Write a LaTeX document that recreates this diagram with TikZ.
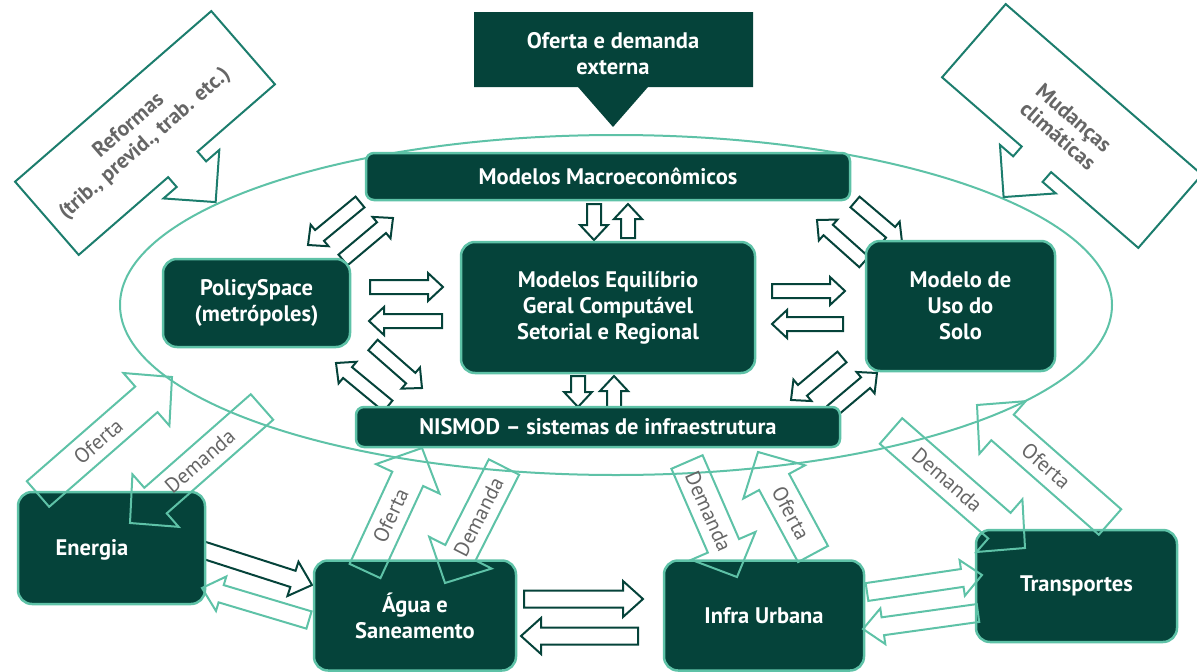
\documentclass[tikz,border=0pt]{standalone}
\usepackage{fontspec}
\setmainfont{PT Sans}
\usetikzlibrary{calc}

\definecolor{boxgreen}{HTML}{05433A}
\definecolor{lightteal}{HTML}{5EC2A7}
\definecolor{callteal}{HTML}{1C7D6D}
\definecolor{labelgray}{HTML}{666666}

% block arrow: [style]{from}{to}{half shaft}{half head}{head length}
\newcommand\barrow[6][]{%
  \coordinate (h) at ($(#3)!#6!(#2)$);
  \draw[#1] ($(#2)!#4!90:(#3)$) -- ($(h)!#4!90:(#3)$) -- ($(h)!#5!90:(#3)$) -- (#3)
    -- ($(h)!#5!-90:(#3)$) -- ($(h)!#4!-90:(#3)$) -- ($(#2)!#4!-90:(#3)$) -- cycle;}

% callout: {centre}{angle}{head offset}
\newcommand\callbox[3]{%
  \begin{scope}[shift={#1}, rotate=#2, xshift=#3]
    \draw[callout] (-130-#3,-48.5) -- (130-#3,-48.5) -- (130-#3,48.5) -- (19.5,48.5) -- (19.5,61.5)
        -- (37,61.5) -- (0,98.5) -- (-37,61.5) -- (-19.5,61.5) -- (-19.5,48.5)
        -- (-130-#3,48.5) -- cycle;
  \end{scope}}

\tikzset{
  boxtxt/.style={text=white, font=\fontsize{22.5}{26}\selectfont\bfseries, align=center},
  box/.style={boxtxt, draw=lightteal, line width=2.5pt, fill=boxgreen, rounded corners=14pt, inner sep=0pt},
  darr/.style={draw=boxgreen, line width=2pt, fill=white, line join=miter},
  tarr/.style={draw=lightteal, line width=2pt, line join=miter},
  lbl/.style={text=labelgray, font=\fontsize{21}{24}\selectfont},
  callout/.style={draw=callteal, line width=2pt, line join=miter},
  calltext/.style={text=labelgray, font=\fontsize{21.5}{24}\selectfont\bfseries, align=center},
}

\begin{document}
\begin{tikzpicture}[x=1pt, y=-1pt]
    \useasboundingbox (0,0) rectangle (1197,672);

    % elipse
    \draw[lightteal, line width=2pt] (616,305) ellipse [x radius=496pt, y radius=170pt];

    % oferta e demanda externa
    \fill[boxgreen] (474,12) -- (753,12) -- (753,87) -- (648,87) -- (613,127)
        -- (578,87) -- (474,87) -- cycle;
    \node[boxtxt] (ext) at (613,54) {Oferta e demanda\\externa};

    % reformas e mudancas climaticas
    \callbox{(145,133)}{41}{8}
    \node[calltext, rotate=41] (ref) at (137,135) {Reformas\\(trib., previd., trab. etc.)};
    \callbox{(1072,126)}{-41}{-5}
    \node[calltext, rotate=-41] (mud) at (1066,127) {Mudanças\\climáticas};

    % pontos das setas
    \foreach \n/\x/\y in {
        pc1/370/287, pc2/443/287, cp1/442/321, cp2/369/321,
        cu1/772/291, cu2/845/291, uc1/843/324, uc2/772/324,
        mc1/594/204, mc2/594/240, cm1/628/238, cm2/628/204,
        cn1/578/376, cn2/578/407, nc1/614/407, nc2/614/376,
        mp1/360/202, mp2/308/245, pm1/343/260, pm2/393/218,
        pn1/373/345, pn2/422/388, np1/388/406, np2/336/363,
        mu1/855/202, mu2/902/242, um1/864/262, um2/817/220,
        un1/842/357, un2/791/400, nu1/832/411, nu2/877/373,
        ea1/200/549, ea2/312/585, ae1/309/620, ae2/202/588,
        ai1/524/599, ai2/643/599, ia1/638/636, ia2/521/636,
        it1/867/592, it2/982/575, ti1/978/613, ti2/863/629,
        eo1/38/494, eo2/172/377, ed1/262/407, ed2/130/523,
        ao1/365/571, ao2/422/448, ad1/504/467, ad2/445/583,
        id1/687/462, id2/737/577, io1/813/554, io2/758/452,
        td1/891/431, td2/1025/548, to1/1110/522, to2/977/405}
        \coordinate (\n) at (\x,\y);

    % setas entre modelos
    \foreach \s/\t in {pc1/pc2, cp1/cp2, cu1/cu2, uc1/uc2, mc1/mc2, cm1/cm2,
        cn1/cn2, nc1/nc2, mp1/mp2, pm1/pm2, pn1/pn2, np1/np2,
        mu1/mu2, um1/um2, un1/un2, nu1/nu2}
        \barrow[darr]{\s}{\t}{7pt}{14pt}{15pt};
    \foreach \s/\t in {ea1/ea2, ai1/ai2, ia1/ia2}
        \barrow[darr]{\s}{\t}{8.5pt}{18pt}{20pt};

    % modelos
    \node[box, rounded corners=8pt, minimum width=484pt, minimum height=47pt] (mac) at (608,176.5) {Modelos Macroeconômicos};
    \node[box, minimum width=187pt, minimum height=88pt] (pol) at (256.5,303) {PolicySpace\\(metrópoles)};
    \node[box, minimum width=294pt, minimum height=131pt] (cge) at (608,307.5) {Modelos Equilíbrio\\Geral Computável\\Setorial e Regional};
    \node[box, minimum width=189pt, minimum height=130pt] (uso) at (960.5,306) {Modelo de\\Uso do\\Solo};
    \node[box, rounded corners=8pt, minimum width=484pt, minimum height=40pt] (nis) at (598,427) {NISMOD -- sistemas de infraestrutura};

    % setores
    \node[box, minimum width=187pt, minimum height=112pt] (ene) at (111.5,548) {};
    \node[boxtxt] (enet) at (92,550) {Energia};
    \node[box, minimum width=202pt, minimum height=110pt] (agu) at (415,615.5) {Água e\\Saneamento};
    \node[box, minimum width=200pt, minimum height=110pt] (inf) at (764,615.5) {Infra Urbana};
    \node[box, minimum width=201pt, minimum height=112pt] (tra) at (1076.5,586) {Transportes};

    % oferta e demanda
    \foreach \s/\t in {ae1/ae2, it1/it2, ti1/ti2}
        \barrow[tarr]{\s}{\t}{9pt}{18pt}{20pt};
    \foreach \s/\t in {eo1/eo2, ed1/ed2, ao1/ao2, ad1/ad2, id1/id2, io1/io2, td1/td2, to1/to2}
        \barrow[tarr]{\s}{\t}{17pt}{35pt}{34pt};

    \node[lbl, rotate=41] (leo) at ($(eo1)!.45!(eo2)$) {Oferta};
    \node[lbl, rotate=41] (led) at ($(ed1)!.47!(ed2)$) {Demanda};
    \node[lbl, rotate=65] (lao) at ($(ao1)!.45!(ao2)$) {Oferta};
    \node[lbl, rotate=63] (lad) at ($(ad1)!.43!(ad2)$) {Demanda};
    \node[lbl, rotate=-66] (lid) at ($(id1)!.43!(id2)$) {Demanda};
    \node[lbl, rotate=-62] (lio) at ($(io1)!.40!(io2)$) {Oferta};
    \node[lbl, rotate=-41] (ltd) at ($(td1)!.42!(td2)$) {Demanda};
    \node[lbl, rotate=-41] (lto) at ($(to1)!.48!(to2)$) {Oferta};
\end{tikzpicture}
\end{document}
